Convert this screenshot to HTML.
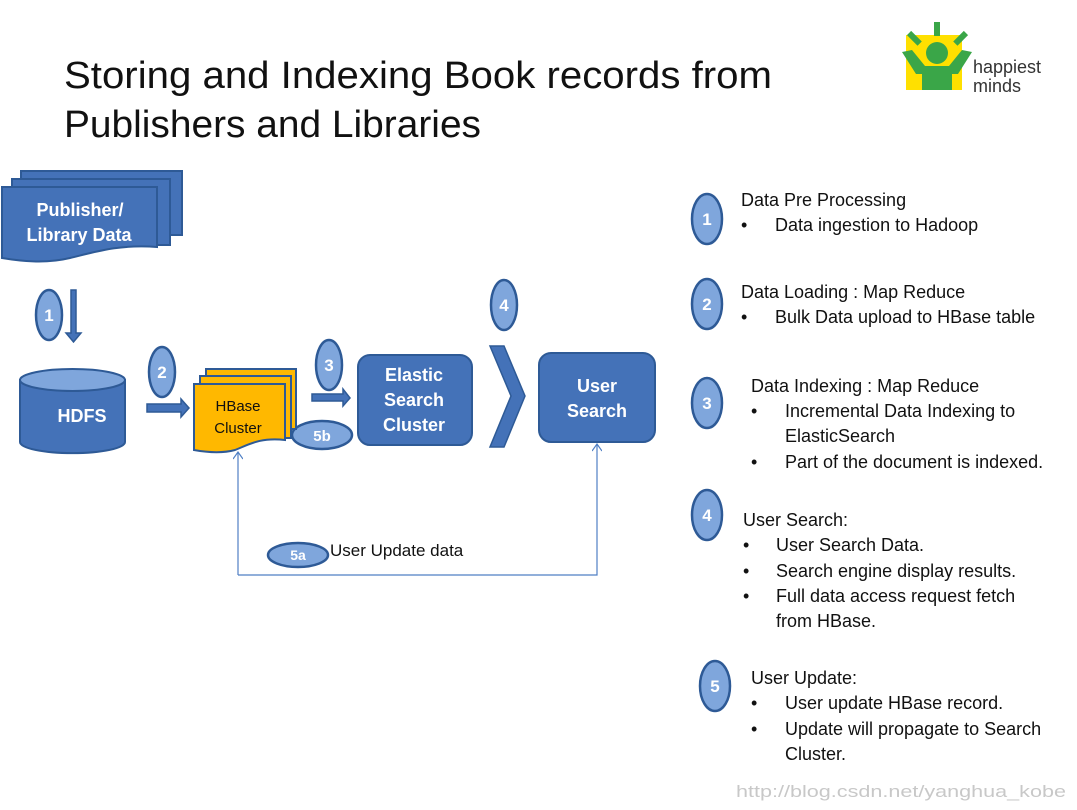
<!DOCTYPE html>
<html><head><meta charset="utf-8"><style>
html,body{margin:0;padding:0;background:#fff}
svg{display:block}
text{font-family:"Liberation Sans",sans-serif}
</style></head><body>
<svg width="1077" height="810" viewBox="0 0 1077 810" xmlns="http://www.w3.org/2000/svg">
<defs>
<marker id="ah" markerWidth="10" markerHeight="10" refX="5" refY="1" orient="0" markerUnits="userSpaceOnUse">
<path d="M0,8 L5,1 L10,8" fill="none" stroke="#4f7fc4" stroke-width="1.2"/></marker>
</defs>
<!-- title -->
<text x="64" y="88" font-size="38" fill="#111" textLength="708" lengthAdjust="spacingAndGlyphs">Storing and Indexing Book records from</text>
<text x="64" y="137" font-size="38" fill="#111" textLength="417" lengthAdjust="spacingAndGlyphs">Publishers and Libraries</text>
<!-- logo -->
<rect x="906" y="35" width="56" height="55" fill="#ffe000"/>
<g fill="#3aa648">
<rect x="934" y="22" width="6" height="14"/>
<rect x="911" y="31" width="6" height="15" transform="rotate(-45 914 38)"/>
<rect x="958" y="31" width="6" height="15" transform="rotate(45 961 38)"/>
<circle cx="937" cy="53" r="11"/>
<path d="M902,52 L912,50 L925,66 L949,66 L962,50 L972,52 L958,74 L952,74 L952,90 L922,90 L922,74 L916,74 Z"/>
</g>
<text x="973" y="73" font-size="18" fill="#333">happiest</text>
<text x="973" y="92" font-size="18" fill="#333">minds</text>
<!-- publisher docs -->
<g fill="#4472b8" stroke="#2e5a96" stroke-width="2">
<rect x="21" y="171" width="161" height="64"/>
<rect x="12" y="179" width="158" height="66"/>
<path d="M2,187 L157,187 L157,247 C120,244 95,252 70,258 C45,264 20,261 2,258 Z"/>
</g>
<text x="80" y="216" font-size="18" font-weight="bold" fill="#fff" text-anchor="middle">Publisher/</text>
<text x="79" y="241" font-size="18" font-weight="bold" fill="#fff" text-anchor="middle">Library Data</text>
<!-- circles -->
<g fill="#7fa6dc" stroke="#2e5a96" stroke-width="2.5">
<ellipse cx="49" cy="315" rx="13" ry="25"/>
<ellipse cx="162" cy="372" rx="13" ry="25"/>
<ellipse cx="329" cy="365" rx="13" ry="25"/>
<ellipse cx="504" cy="305" rx="13" ry="25"/>
<ellipse cx="322" cy="435" rx="30" ry="14"/>
<ellipse cx="298" cy="555" rx="30" ry="12"/>
<ellipse cx="707" cy="219" rx="15" ry="25"/>
<ellipse cx="707" cy="304" rx="15" ry="25"/>
<ellipse cx="707" cy="403" rx="15" ry="25"/>
<ellipse cx="707" cy="515" rx="15" ry="25"/>
<ellipse cx="715" cy="686" rx="15" ry="25"/>
</g>
<g fill="#fff" font-size="17" font-weight="bold" text-anchor="middle">
<text x="49" y="321">1</text><text x="162" y="378">2</text><text x="329" y="371">3</text><text x="504" y="311">4</text>
<text x="322" y="441" font-size="15">5b</text><text x="298" y="560" font-size="14">5a</text>
<text x="707" y="225">1</text><text x="707" y="310">2</text><text x="707" y="409">3</text><text x="707" y="521">4</text><text x="715" y="692">5</text>
</g>
<!-- block arrows -->
<g fill="#4472b8" stroke="#2e5a96" stroke-width="1.5">
<path d="M71,290 L76,290 L76,333 L81,333 L73.5,342 L66,333 L71,333 Z"/>
<path d="M147,404 L181,404 L181,399 L189,408 L181,417 L181,412 L147,412 Z"/>
<path d="M312,394 L343,394 L343,389 L350,398 L343,406 L343,401 L312,401 Z"/>
<path d="M490,346 L504,346 L525,396 L504,447 L490,447 L511,396 Z"/>
</g>
<!-- HDFS -->
<path d="M20,380 L20,442 A52,11 0 0 0 125,442 L125,380 Z" fill="#4472b8" stroke="#2e5a96" stroke-width="2"/>
<ellipse cx="72.5" cy="380" rx="52.5" ry="11" fill="#7fa6dc" stroke="#2e5a96" stroke-width="2"/>
<text x="82" y="422" font-size="18" font-weight="bold" fill="#fff" text-anchor="middle">HDFS</text>
<!-- HBase -->
<g fill="#ffb800" stroke="#2e5a96" stroke-width="2">
<rect x="206" y="369" width="90" height="60"/>
<rect x="200" y="376" width="91" height="62"/>
<path d="M194,384 L285,384 L285,440 C260,437 248,445 235,450 C220,454 205,452 194,450 Z"/>
</g>
<text x="238" y="411" font-size="15" fill="#111" text-anchor="middle">HBase</text>
<text x="238" y="433" font-size="15" fill="#111" text-anchor="middle">Cluster</text>
<!-- Elastic -->
<rect x="358" y="355" width="114" height="90" rx="12" fill="#4472b8" stroke="#2e5a96" stroke-width="2"/>
<text x="414" y="381" font-size="18" font-weight="bold" fill="#fff" text-anchor="middle">Elastic</text>
<text x="414" y="406" font-size="18" font-weight="bold" fill="#fff" text-anchor="middle">Search</text>
<text x="414" y="431" font-size="18" font-weight="bold" fill="#fff" text-anchor="middle">Cluster</text>
<!-- User Search -->
<rect x="539" y="353" width="116" height="89" rx="12" fill="#4472b8" stroke="#2e5a96" stroke-width="2"/>
<text x="597" y="392" font-size="18" font-weight="bold" fill="#fff" text-anchor="middle">User</text>
<text x="597" y="417" font-size="18" font-weight="bold" fill="#fff" text-anchor="middle">Search</text>
<!-- feedback line -->
<path d="M238,575 L238,452" fill="none" stroke="#4f7fc4" stroke-width="1.2" marker-end="url(#ah)"/>
<path d="M238,575 L597,575 L597,444" fill="none" stroke="#4f7fc4" stroke-width="1.2" marker-end="url(#ah)"/>
<text x="330" y="556" font-size="17" fill="#111">User Update data</text>
<!-- right text -->
<g font-size="18" fill="#111">
<text x="741" y="206">Data Pre Processing</text>
<text x="741" y="231">•</text><text x="775" y="231">Data ingestion to Hadoop</text>
<text x="741" y="298">Data Loading : Map Reduce</text>
<text x="741" y="323">•</text><text x="775" y="323">Bulk Data upload to HBase table</text>
<text x="751" y="392">Data Indexing : Map Reduce</text>
<text x="751" y="417">•</text><text x="785" y="417">Incremental Data Indexing to</text>
<text x="785" y="442">ElasticSearch</text>
<text x="751" y="468">•</text><text x="785" y="468">Part of the document is indexed.</text>
<text x="743" y="526">User Search:</text>
<text x="743" y="551">•</text><text x="776" y="551">User Search Data.</text>
<text x="743" y="577">•</text><text x="776" y="577">Search engine display results.</text>
<text x="743" y="602">•</text><text x="776" y="602">Full data access request fetch</text>
<text x="776" y="627">from HBase.</text>
<text x="751" y="684">User Update:</text>
<text x="751" y="709">•</text><text x="785" y="709">User update HBase record.</text>
<text x="751" y="735">•</text><text x="785" y="735">Update will propagate to Search</text>
<text x="785" y="760">Cluster.</text>
</g>
<text x="736" y="797" font-size="17" fill="#c8c8c8" font-family="Liberation Mono,monospace" textLength="330" lengthAdjust="spacingAndGlyphs">http://blog.csdn.net/yanghua_kobe</text>
</svg>
</body></html>
